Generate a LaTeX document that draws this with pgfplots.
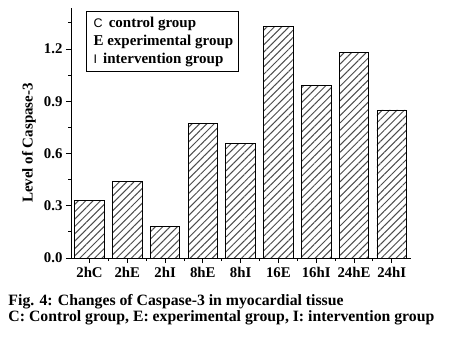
\documentclass[border=0pt]{standalone}
\usepackage{pgfplots}
\pgfplotsset{compat=1.18}
\usepackage{fontspec}
\setmainfont{Liberation Serif}
\setsansfont{Liberation Sans}
\usetikzlibrary{patterns.meta}
\begin{document}
\begin{tikzpicture}
\useasboundingbox (0,0) rectangle (466pt,338pt);
\begin{axis}[
  at={(71pt,80pt)}, anchor=south west,
  scale only axis, width=340pt, height=250pt,
  xmin=-0.49, xmax=8.51, ymin=0, ymax=1.435,
  axis x line*=bottom, axis y line*=left,
  axis line style={line width=0.9pt},
  ybar, bar width=29.6pt,
  xtick={0,...,8},
  xticklabels={2hC,2hE,2hI,8hE,8hI,16E,16hI,24hE,24hI},
  minor xtick={0.5,1.5,...,7.5},
  ytick={0,0.3,0.6,0.9,1.2},
  minor ytick={0.15,0.45,0.75,1.05,1.35},
  tick align=outside,
  major tick length=5pt, minor tick length=3pt,
  every tick/.style={black, line width=0.8pt},
  tick label style={font=\bfseries\fontsize{14.8}{16}\selectfont},
  xticklabel style={yshift=-1pt},
  /pgf/number format/assume math mode=true,
  yticklabel style={/pgf/number format/.cd, fixed, fixed zerofill, precision=1},
  ylabel={Level of Caspase-3},
  ylabel style={font=\bfseries\fontsize{15}{16}\selectfont, at={(axis description cs:-0.1235,0.46)}, anchor=center},
]
\addplot[draw=black, line width=0.8pt, pattern={Lines[angle=45, distance=5.2pt, line width=1pt]}, pattern color=black!70]
coordinates {(0,0.33) (1,0.44) (2,0.18) (3,0.77) (4,0.66) (5,1.33) (6,0.99) (7,1.18) (8,0.85)};
\end{axis}
% text box
\draw[line width=0.7pt] (86.3pt,266.5pt) rectangle (238.7pt,326.3pt);
\node[anchor=base west, inner sep=0pt, font=\bfseries\fontsize{15}{16}\selectfont] at (93.3pt,310.7pt) {{\sffamily\mdseries\fontsize{12.5}{14}\selectfont C}\, control group};
\node[anchor=base west, inner sep=0pt, font=\bfseries\fontsize{15}{16}\selectfont] at (93.3pt,292.3pt) {E experimental group};
\node[anchor=base west, inner sep=0pt, font=\bfseries\fontsize{15}{16}\selectfont] at (93.3pt,274.7pt) {{\sffamily\mdseries\fontsize{12.5}{14}\selectfont I}\, intervention group};
% caption
\node[anchor=base west, inner sep=0pt, font=\bfseries\fontsize{15.75}{17}\selectfont] at (8.3pt,33pt) {Fig. 4: Changes of Caspase-3 in myocardial tissue};
\node[anchor=base west, inner sep=0pt, font=\bfseries\fontsize{15.75}{17}\selectfont] at (8.3pt,17pt) {C: Control group, E: experimental group, I: intervention group};
\end{tikzpicture}
\end{document}
